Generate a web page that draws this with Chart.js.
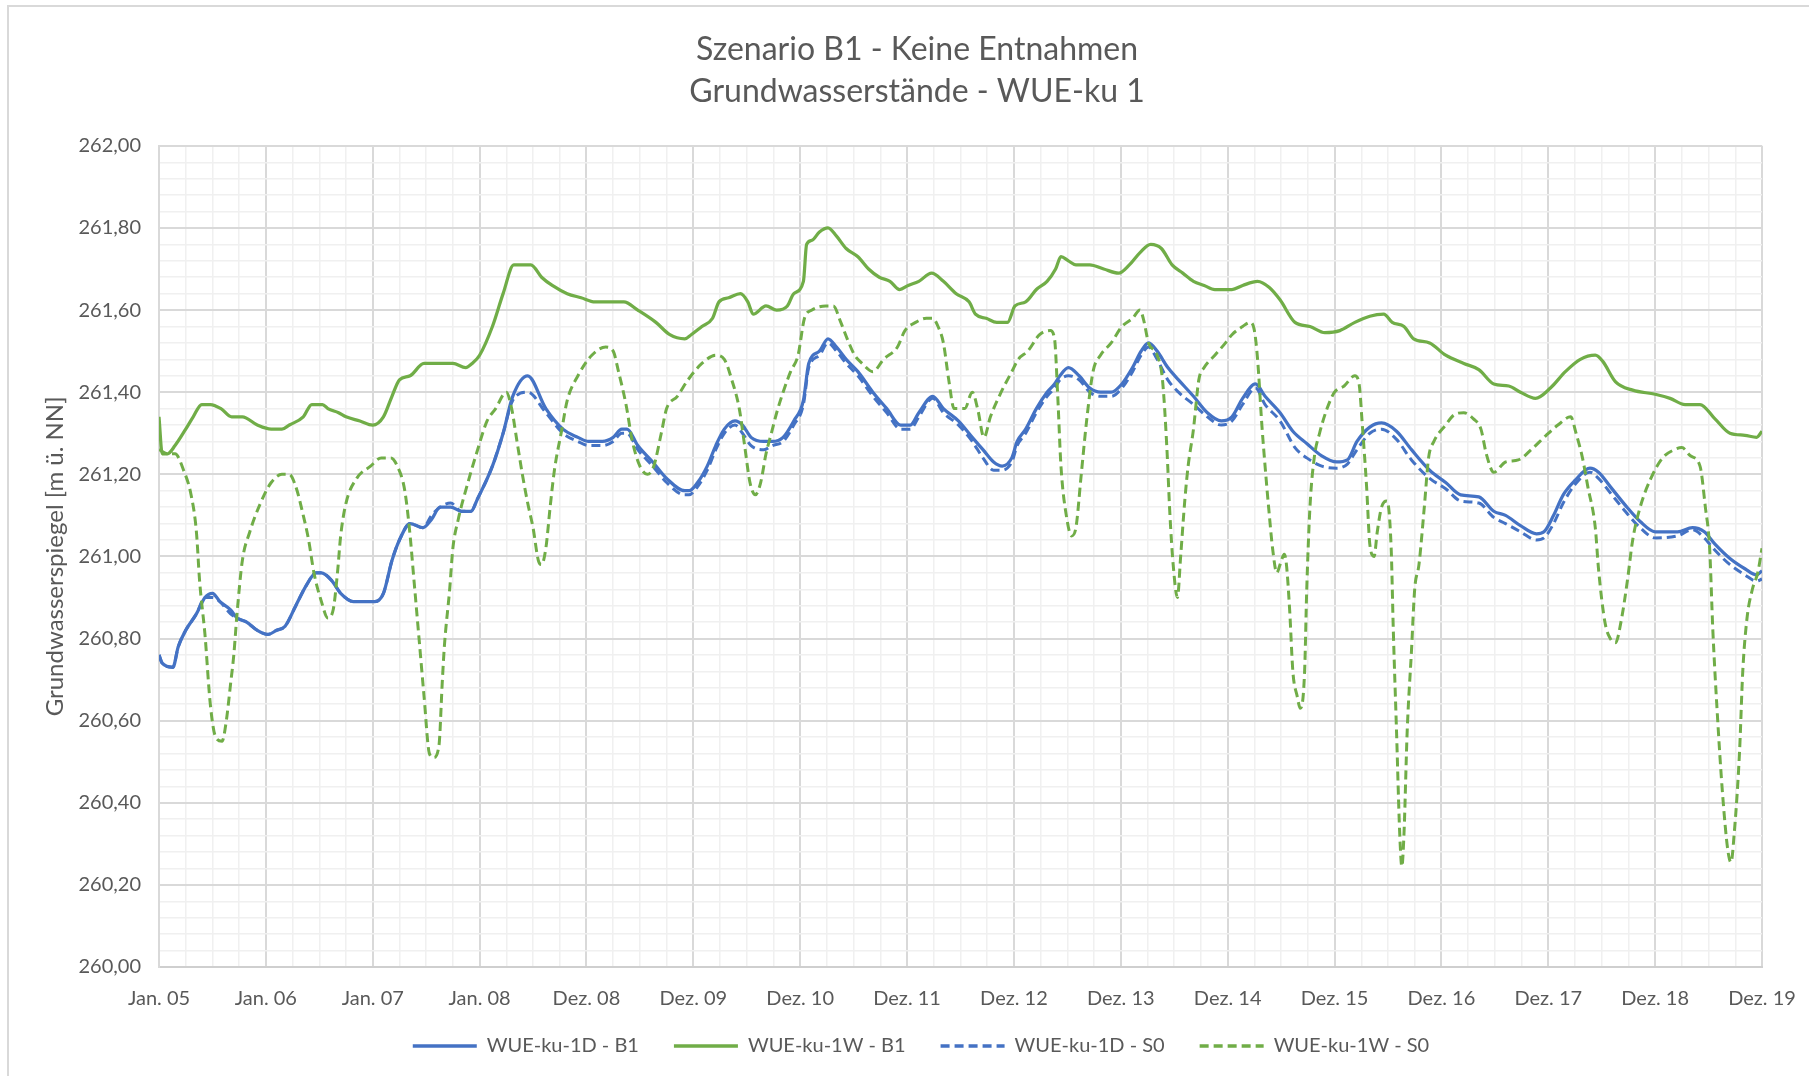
<!DOCTYPE html>
<html>
<head>
<meta charset="utf-8">
<script src="https://cdn.jsdelivr.net/npm/chart.js@4.4.1/dist/chart.umd.min.js"></script>
<style>
  html, body { margin: 0; padding: 0; background: #ffffff; overflow: hidden; width: 1809px; height: 1076px; }
  #frame { position: absolute; left: 7px; top: 5px; width: 1900px; height: 1200px;
           border-left: 2px solid #D9D9D9; border-top: 2px solid #D9D9D9; box-sizing: border-box; }
  #c { position: absolute; left: 0; top: 0; }
</style>
</head>
<body>
<div id="frame"></div>
<canvas id="c" width="1809" height="1076"></canvas>
<script>
// ---------------- data ----------------
const titleLines = ['Szenario B1 - Keine Entnahmen', 'Grundwasserstände - WUE-ku 1'];
const yAxisTitle = 'Grundwasserspiegel [m ü. NN]';
const xLabels = ['Jan. 05','Jan. 06','Jan. 07','Jan. 08','Dez. 08','Dez. 09','Dez. 10','Dez. 11',
                 'Dez. 12','Dez. 13','Dez. 14','Dez. 15','Dez. 16','Dez. 17','Dez. 18','Dez. 19'];
const yLabels = ['260,00','260,20','260,40','260,60','260,80','261,00','261,20','261,40','261,60','261,80','262,00'];
const seriesNames = ['WUE-ku-1D - B1', 'WUE-ku-1W - B1', 'WUE-ku-1D - S0', 'WUE-ku-1W - S0'];

// [time in label intervals since Jan. 05, level in m ü. NN]
const ser1D_B1 = [[0,260.76],[0.03,260.74],[0.13,260.73],[0.18,260.78],[0.25,260.82],[0.35,260.86],[0.43,260.90],[0.5,260.91],[0.57,260.89],[0.67,260.87],[0.73,260.85],[0.82,260.84],[0.92,260.82],[1.02,260.81],[1.1,260.82],[1.18,260.83],[1.28,260.88],[1.38,260.93],[1.47,260.96],[1.52,260.96],[1.62,260.94],[1.7,260.91],[1.82,260.89],[1.92,260.89],[2.02,260.89],[2.1,260.91],[2.18,260.99],[2.25,261.04],[2.35,261.08],[2.47,261.07],[2.55,261.09],[2.63,261.12],[2.73,261.12],[2.83,261.11],[2.92,261.11],[2.98,261.14],[3.12,261.22],[3.22,261.30],[3.31,261.39],[3.45,261.44],[3.62,261.36],[3.78,261.31],[3.92,261.29],[4.02,261.28],[4.15,261.28],[4.25,261.29],[4.33,261.31],[4.38,261.31],[4.48,261.27],[4.62,261.23],[4.75,261.19],[4.92,261.16],[4.96,261.16],[5.04,261.18],[5.13,261.22],[5.21,261.27],[5.29,261.31],[5.39,261.33],[5.46,261.32],[5.54,261.29],[5.66,261.28],[5.74,261.28],[5.84,261.29],[5.94,261.33],[6.03,261.38],[6.08,261.47],[6.18,261.50],[6.26,261.53],[6.34,261.51],[6.43,261.48],[6.54,261.45],[6.68,261.40],[6.81,261.36],[6.94,261.32],[7.03,261.32],[7.11,261.35],[7.24,261.39],[7.34,261.36],[7.48,261.33],[7.61,261.29],[7.71,261.26],[7.81,261.23],[7.89,261.22],[7.98,261.24],[8.03,261.28],[8.11,261.31],[8.21,261.36],[8.31,261.40],[8.38,261.42],[8.43,261.44],[8.51,261.46],[8.61,261.44],[8.71,261.41],[8.81,261.40],[8.91,261.40],[9.01,261.42],[9.11,261.46],[9.19,261.50],[9.26,261.52],[9.34,261.50],[9.44,261.46],[9.54,261.43],[9.68,261.39],[9.81,261.35],[9.94,261.33],[10.04,261.34],[10.14,261.385],[10.26,261.42],[10.35,261.39],[10.49,261.35],[10.61,261.305],[10.74,261.275],[10.88,261.245],[11.02,261.23],[11.12,261.235],[11.21,261.28],[11.33,261.315],[11.44,261.325],[11.58,261.305],[11.72,261.26],[11.89,261.21],[12.04,261.18],[12.18,261.15],[12.35,261.145],[12.49,261.11],[12.6,261.10],[12.74,261.075],[12.89,261.055],[12.96,261.06],[13.05,261.10],[13.14,261.15],[13.25,261.185],[13.39,261.215],[13.47,261.205],[13.58,261.17],[13.72,261.125],[13.86,261.085],[14.0,261.06],[14.21,261.06],[14.35,261.07],[14.46,261.06],[14.56,261.03],[14.7,260.995],[14.84,260.97],[14.95,260.955],[15.0,260.965]];

const ser1W_B1 = [[0,261.34],[0.03,261.25],[0.08,261.25],[0.15,261.27],[0.25,261.31],[0.32,261.34],[0.4,261.37],[0.48,261.37],[0.58,261.36],[0.68,261.34],[0.78,261.34],[0.92,261.32],[1.05,261.31],[1.15,261.31],[1.22,261.32],[1.35,261.34],[1.43,261.37],[1.53,261.37],[1.58,261.36],[1.68,261.35],[1.75,261.34],[1.88,261.33],[2.0,261.32],[2.1,261.34],[2.18,261.39],[2.25,261.43],[2.35,261.44],[2.48,261.47],[2.65,261.47],[2.75,261.47],[2.87,261.46],[2.93,261.47],[3.0,261.49],[3.12,261.56],[3.22,261.64],[3.32,261.71],[3.48,261.71],[3.58,261.68],[3.68,261.66],[3.82,261.64],[3.95,261.63],[4.08,261.62],[4.15,261.62],[4.35,261.62],[4.48,261.60],[4.65,261.57],[4.78,261.54],[4.92,261.53],[4.98,261.54],[5.08,261.56],[5.18,261.58],[5.24,261.62],[5.33,261.63],[5.44,261.64],[5.51,261.62],[5.56,261.59],[5.68,261.61],[5.78,261.60],[5.88,261.61],[5.94,261.64],[6.03,261.67],[6.06,261.76],[6.11,261.77],[6.18,261.79],[6.26,261.80],[6.34,261.78],[6.43,261.75],[6.54,261.73],[6.64,261.70],[6.74,261.68],[6.84,261.67],[6.93,261.65],[7.01,261.66],[7.11,261.67],[7.23,261.69],[7.34,261.67],[7.46,261.64],[7.58,261.62],[7.64,261.59],[7.74,261.58],[7.84,261.57],[7.94,261.57],[8.01,261.61],[8.11,261.62],[8.21,261.65],[8.31,261.67],[8.39,261.70],[8.44,261.73],[8.51,261.72],[8.58,261.71],[8.71,261.71],[8.84,261.70],[8.98,261.69],[9.08,261.71],[9.18,261.74],[9.28,261.76],[9.38,261.75],[9.48,261.71],[9.58,261.69],[9.68,261.67],[9.78,261.66],[9.88,261.65],[10.04,261.65],[10.14,261.66],[10.28,261.67],[10.39,261.655],[10.49,261.625],[10.63,261.57],[10.77,261.56],[10.91,261.545],[11.05,261.55],[11.19,261.57],[11.33,261.585],[11.46,261.59],[11.54,261.57],[11.65,261.56],[11.74,261.53],[11.89,261.52],[12.04,261.49],[12.21,261.47],[12.35,261.455],[12.49,261.42],[12.63,261.415],[12.74,261.40],[12.88,261.385],[13.02,261.41],[13.16,261.45],[13.3,261.48],[13.44,261.49],[13.51,261.475],[13.63,261.425],[13.79,261.405],[14.0,261.395],[14.14,261.385],[14.28,261.37],[14.42,261.37],[14.56,261.335],[14.7,261.30],[14.84,261.295],[14.95,261.29],[15.0,261.305]];

const ser1D_S0 = [[0,260.76],[0.03,260.74],[0.13,260.73],[0.18,260.78],[0.25,260.82],[0.35,260.86],[0.43,260.90],[0.5,260.90],[0.57,260.89],[0.67,260.86],[0.73,260.85],[0.82,260.84],[0.92,260.82],[1.02,260.81],[1.1,260.82],[1.18,260.83],[1.28,260.88],[1.38,260.93],[1.47,260.96],[1.52,260.96],[1.62,260.94],[1.7,260.91],[1.82,260.89],[1.92,260.89],[2.02,260.89],[2.1,260.91],[2.18,260.99],[2.25,261.04],[2.35,261.08],[2.47,261.07],[2.55,261.10],[2.63,261.12],[2.73,261.13],[2.83,261.11],[2.92,261.11],[2.98,261.14],[3.12,261.22],[3.22,261.30],[3.31,261.38],[3.45,261.40],[3.62,261.35],[3.78,261.30],[3.92,261.28],[4.02,261.27],[4.15,261.27],[4.25,261.28],[4.33,261.30],[4.38,261.30],[4.48,261.26],[4.62,261.22],[4.75,261.18],[4.92,261.15],[4.96,261.15],[5.04,261.17],[5.13,261.21],[5.21,261.26],[5.29,261.30],[5.39,261.32],[5.46,261.30],[5.54,261.27],[5.66,261.26],[5.74,261.27],[5.84,261.28],[5.94,261.32],[6.03,261.37],[6.08,261.46],[6.18,261.49],[6.26,261.52],[6.34,261.50],[6.43,261.47],[6.54,261.44],[6.68,261.39],[6.81,261.35],[6.94,261.31],[7.03,261.31],[7.11,261.34],[7.24,261.385],[7.34,261.35],[7.48,261.32],[7.61,261.28],[7.71,261.24],[7.81,261.21],[7.89,261.21],[7.98,261.23],[8.03,261.27],[8.11,261.30],[8.21,261.35],[8.31,261.39],[8.38,261.41],[8.43,261.43],[8.51,261.44],[8.61,261.43],[8.71,261.40],[8.81,261.39],[8.91,261.39],[9.01,261.41],[9.11,261.45],[9.19,261.49],[9.26,261.51],[9.34,261.48],[9.44,261.43],[9.54,261.40],[9.68,261.37],[9.81,261.34],[9.94,261.32],[10.04,261.33],[10.14,261.37],[10.26,261.41],[10.35,261.37],[10.49,261.33],[10.63,261.265],[10.74,261.24],[10.88,261.22],[11.02,261.215],[11.12,261.225],[11.21,261.26],[11.33,261.30],[11.44,261.31],[11.58,261.285],[11.72,261.235],[11.89,261.19],[12.04,261.165],[12.18,261.135],[12.35,261.13],[12.49,261.095],[12.6,261.08],[12.74,261.06],[12.89,261.04],[12.96,261.045],[13.05,261.08],[13.14,261.13],[13.25,261.175],[13.39,261.205],[13.47,261.19],[13.58,261.155],[13.72,261.11],[13.86,261.07],[14.0,261.045],[14.21,261.05],[14.35,261.065],[14.46,261.045],[14.56,261.015],[14.7,260.98],[14.84,260.955],[14.95,260.94],[15.0,260.945]];

const ser1W_S0 = [[0,261.26],[0.08,261.25],[0.15,261.25],[0.23,261.21],[0.3,261.15],[0.35,261.06],[0.38,260.94],[0.43,260.81],[0.48,260.64],[0.53,260.56],[0.59,260.55],[0.63,260.60],[0.67,260.69],[0.7,260.76],[0.73,260.86],[0.78,260.99],[0.85,261.06],[0.95,261.13],[1.05,261.18],[1.15,261.20],[1.22,261.20],[1.28,261.17],[1.35,261.10],[1.4,261.04],[1.45,260.96],[1.52,260.89],[1.58,260.85],[1.63,260.87],[1.67,260.96],[1.7,261.05],[1.75,261.13],[1.85,261.19],[1.98,261.22],[2.08,261.24],[2.17,261.24],[2.23,261.22],[2.3,261.16],[2.35,261.05],[2.38,260.96],[2.43,260.81],[2.48,260.66],[2.53,260.52],[2.57,260.51],[2.62,260.54],[2.65,260.69],[2.67,260.78],[2.72,260.92],[2.75,261.02],[2.8,261.09],[2.88,261.17],[2.97,261.25],[3.07,261.33],[3.15,261.36],[3.25,261.40],[3.3,261.36],[3.35,261.28],[3.4,261.20],[3.45,261.13],[3.5,261.07],[3.55,260.99],[3.58,260.98],[3.62,261.02],[3.66,261.12],[3.7,261.21],[3.77,261.31],[3.82,261.38],[3.92,261.44],[4.05,261.49],[4.18,261.51],[4.25,261.50],[4.3,261.45],[4.37,261.37],[4.43,261.28],[4.5,261.22],[4.57,261.20],[4.63,261.22],[4.7,261.30],[4.75,261.36],[4.85,261.39],[4.95,261.43],[5.08,261.47],[5.21,261.49],[5.29,261.48],[5.36,261.43],[5.43,261.36],[5.48,261.27],[5.53,261.18],[5.58,261.15],[5.63,261.18],[5.68,261.25],[5.73,261.30],[5.78,261.35],[5.84,261.40],[5.91,261.45],[5.98,261.49],[6.04,261.58],[6.11,261.60],[6.24,261.61],[6.31,261.61],[6.38,261.57],[6.44,261.53],[6.51,261.49],[6.58,261.47],[6.68,261.45],[6.78,261.48],[6.91,261.51],[6.98,261.55],[7.08,261.57],[7.18,261.58],[7.24,261.58],[7.29,261.56],[7.34,261.52],[7.39,261.43],[7.44,261.36],[7.54,261.36],[7.61,261.40],[7.66,261.36],[7.72,261.29],[7.78,261.34],[7.88,261.40],[7.98,261.45],[8.04,261.48],[8.13,261.50],[8.24,261.54],[8.34,261.55],[8.38,261.53],[8.41,261.39],[8.44,261.22],[8.49,261.10],[8.54,261.05],[8.58,261.07],[8.63,261.20],[8.68,261.33],[8.74,261.45],[8.81,261.49],[8.91,261.52],[9.01,261.56],[9.11,261.58],[9.18,261.60],[9.21,261.58],[9.26,261.52],[9.34,261.49],[9.39,261.43],[9.43,261.27],[9.46,261.10],[9.49,260.98],[9.53,260.90],[9.56,261.00],[9.6,261.14],[9.63,261.22],[9.68,261.31],[9.73,261.43],[9.78,261.46],[9.88,261.49],[9.98,261.52],[10.04,261.54],[10.14,261.56],[10.21,261.57],[10.25,261.55],[10.28,261.48],[10.32,261.32],[10.35,261.22],[10.39,261.10],[10.42,261.02],[10.46,260.96],[10.49,260.98],[10.53,261.005],[10.55,260.98],[10.58,260.87],[10.61,260.72],[10.65,260.66],[10.68,260.63],[10.72,260.72],[10.74,260.92],[10.77,261.12],[10.81,261.24],[10.86,261.30],[10.93,261.36],[11.0,261.40],[11.09,261.415],[11.19,261.44],[11.23,261.42],[11.26,261.32],[11.3,261.17],[11.33,261.03],[11.37,261.00],[11.4,261.06],[11.44,261.12],[11.49,261.135],[11.53,261.02],[11.55,260.82],[11.58,260.575],[11.61,260.325],[11.63,260.245],[11.65,260.325],[11.68,260.575],[11.72,260.77],[11.75,260.92],[11.79,260.98],[11.84,261.12],[11.88,261.24],[11.93,261.28],[12.04,261.32],[12.12,261.345],[12.21,261.35],[12.3,261.335],[12.37,261.31],[12.42,261.25],[12.49,261.205],[12.6,261.23],[12.72,261.235],[12.84,261.26],[12.98,261.295],[13.09,261.32],[13.21,261.34],[13.26,261.30],[13.32,261.24],[13.37,261.17],[13.44,261.07],[13.47,260.97],[13.53,260.84],[13.58,260.80],[13.63,260.79],[13.68,260.84],[13.74,260.94],[13.79,261.04],[13.86,261.12],[13.96,261.19],[14.07,261.24],[14.18,261.26],[14.25,261.265],[14.33,261.245],[14.42,261.22],[14.47,261.12],[14.51,261.02],[14.54,260.82],[14.58,260.625],[14.63,260.425],[14.68,260.285],[14.71,260.255],[14.74,260.325],[14.79,260.525],[14.82,260.72],[14.86,260.85],[14.91,260.92],[14.96,260.96],[15.0,261.02]];

// ---------------- styling ----------------
const BLUE = '#4472C4';
const GREEN = '#70AD47';
const TEXT = '#595959';
const FONT = 'Lato';
const toXY = arr => arr.map(p => ({ x: p[0], y: p[1] }));

const xGrid = [];
for (let i = 0; i <= (xLabels.length - 1) * 4; i++) xGrid.push(i / 4);
const yGrid = [];
for (let i = 0; i <= (yLabels.length - 1) * 5; i++) yGrid.push(260 + i * 0.04);

const lineBase = { pointRadius: 0, pointHoverRadius: 0, borderWidth: 3.25, fill: false,
                   cubicInterpolationMode: 'monotone', borderCapStyle: 'butt' };

const datasets = [
  Object.assign({}, lineBase, { label: seriesNames[0], data: toXY(ser1D_B1), borderColor: BLUE, backgroundColor: BLUE, order: 4 }),
  Object.assign({}, lineBase, { label: seriesNames[1], data: toXY(ser1W_B1), borderColor: GREEN, backgroundColor: GREEN, order: 3 }),
  Object.assign({}, lineBase, { label: seriesNames[2], data: toXY(ser1D_S0), borderColor: BLUE, backgroundColor: BLUE, borderDash: [9, 5], borderWidth: 3, order: 2 }),
  Object.assign({}, lineBase, { label: seriesNames[3], data: toXY(ser1W_S0), borderColor: GREEN, backgroundColor: GREEN, borderDash: [9, 5], borderWidth: 3, order: 1 })
];

// places the legend row where the reference has it (below the x tick labels)
const LEGEND_CENTER_Y = 1046;
const legendPlacer = {
  id: 'legendPlacer',
  afterLayout(chart) {
    const lg = chart.legend;
    if (!lg) return;
    const pad = lg.options.labels.padding;
    const fs = lg.options.labels.font.size;
    const newTop = LEGEND_CENTER_Y - pad - fs / 2;
    const dy = newTop - lg.top;
    lg.top += dy; lg.bottom += dy;
    lg.left += 4; lg.right += 4;
  }
};

new Chart(document.getElementById('c'), {
  type: 'line',
  data: { datasets },
  plugins: [legendPlacer],
  options: {
    responsive: false,
    animation: false,
    devicePixelRatio: 1,
    layout: { padding: { left: 72, right: 47, top: 0, bottom: 0 } },
    plugins: {
      tooltip: { enabled: false },
      title: {
        display: true, text: titleLines, color: TEXT,
        font: { family: FONT, size: 32, weight: 'normal', lineHeight: 1.31 },
        padding: { top: 29, bottom: 33 }
      },
      legend: {
        position: 'bottom', maxHeight: 70.8,
        labels: {
          usePointStyle: true, pointStyle: 'line', pointStyleWidth: 64, boxHeight: 20,
          padding: 35, color: TEXT, font: { family: FONT, size: 20 },
          generateLabels: chart => chart.data.datasets.map((ds, i) => ({
            text: ds.label, fillStyle: ds.borderColor, strokeStyle: ds.borderColor,
            lineWidth: 3.5, lineDash: ds.borderDash || [], lineCap: 'butt',
            pointStyle: 'line', hidden: false, datasetIndex: i, fontColor: TEXT
          }))
        }
      }
    },
    scales: {
      x: {
        type: 'linear', min: 0, max: 15,
        afterBuildTicks: s => { s.ticks = xGrid.map(v => ({ value: v })); },
        afterFit: s => { s.height = 44; s.paddingLeft = 0; s.paddingRight = 0; },
        grid: {
          drawTicks: false,
          color: c => (c.index % 4 === 0 ? '#D9D9D9' : '#F0F0F0'),
          lineWidth: c => (c.index % 4 === 0 ? 2 : 1.5)
        },
        border: { color: '#CFCFCF', width: 2 },
        ticks: {
          autoSkip: false, maxRotation: 0, minRotation: 0, padding: 19.5, color: TEXT,
          font: { family: FONT, size: 20 },
          callback: (v, i) => (i % 4 === 0 ? xLabels[i / 4] : '')
        }
      },
      y: {
        type: 'linear', min: 260, max: 262,
        afterBuildTicks: s => { s.ticks = yGrid.map(v => ({ value: v })); },
        afterFit: s => { s.width = 87; s.paddingTop = 0; s.paddingBottom = 0; },
        grid: {
          drawTicks: false,
          color: c => (c.index % 5 === 0 ? '#D9D9D9' : '#F0F0F0'),
          lineWidth: c => (c.index % 5 === 0 ? 2 : 1.5)
        },
        border: { color: '#D9D9D9', width: 2 },
        ticks: {
          autoSkip: false, padding: 18, color: TEXT, font: { family: FONT, size: 20 },
          callback: (v, i) => (i % 5 === 0 ? yLabels[i / 5] : '')
        },
        title: {
          display: true, text: yAxisTitle, color: TEXT,
          font: { family: FONT, size: 24, weight: 'normal' },
          padding: { top: -31, bottom: 0 }
        }
      }
    }
  }
});
</script>
</body>
</html>
